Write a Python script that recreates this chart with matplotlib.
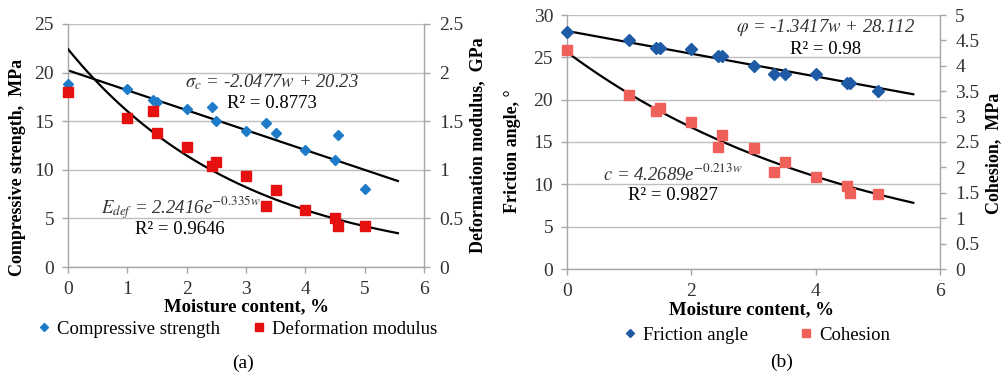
import numpy as np
import matplotlib
matplotlib.use("Agg")
import matplotlib.pyplot as plt
from matplotlib.lines import Line2D

plt.rcParams["font.family"] = ["serif"]
plt.rcParams["font.serif"] = ["Liberation Serif", "DejaVu Serif"]
plt.rcParams["mathtext.fontset"] = "stix"

# (a) compressive strength / deformation modulus
w_a = [0, 1, 1.43, 1.5, 2, 2.43, 2.5, 3, 3.33, 3.5, 4, 4.5, 4.55, 5]
sigma_c = [18.8, 18.3, 17.2, 17.0, 16.25, 16.45, 15.0, 14.0, 14.8, 13.8, 12.0, 11.05, 13.6, 8.0]
w_e = [0, 1, 1.43, 1.5, 2, 2.42, 2.5, 3, 3.33, 3.5, 4, 4.5, 4.55, 5]
e_def = [1.80, 1.53, 1.60, 1.38, 1.23, 1.04, 1.08, 0.94, 0.63, 0.79, 0.59, 0.50, 0.42, 0.42]

# (b) friction angle / cohesion
w_b = [0, 1, 1.43, 1.5, 2, 2.43, 2.5, 3, 3.33, 3.5, 4, 4.5, 4.55, 5]
phi = [28.0, 27.0, 26.1, 26.1, 26.0, 25.1, 25.1, 24.0, 23.0, 23.0, 23.0, 22.0, 22.0, 21.0]
coh = [4.31, 3.43, 3.11, 3.16, 2.90, 2.41, 2.64, 2.38, 1.90, 2.11, 1.82, 1.64, 1.50, 1.48]

# trendline coefficients printed on the chart
lin_a = (-2.0477, 20.23)
exp_a = (2.2416, -0.335)
lin_b = (-1.3417, 28.112)
exp_b = (4.2689, -0.213)

W, H = 1004, 373
fig = plt.figure(figsize=(W / 100, H / 100), dpi=100)

def px_axes(x0, x1, ytop, ybot):
    return fig.add_axes([x0 / W, 1 - ybot / H, (x1 - x0) / W, (ybot - ytop) / H])

grid_c = "#BFBFBF"
spine_c = "#A6A6A6"
tick_c = "#333333"
eq_c = "#333333"

def style(ax, twin):
    for a in (ax, twin):
        for s in a.spines.values():
            s.set_visible(False)
    ax.spines["left"].set_visible(True)
    ax.spines["bottom"].set_visible(True)
    twin.spines["right"].set_visible(True)
    for s in (ax.spines["left"], ax.spines["bottom"], twin.spines["right"]):
        s.set_color(spine_c)
        s.set_linewidth(1.0)
    ax.yaxis.grid(True, color=grid_c, lw=1.0)
    ax.set_axisbelow(True)
    ax.tick_params(axis="both", length=4, width=1.0, color=spine_c, labelsize=14,
                   labelcolor=tick_c, pad=6)
    twin.tick_params(axis="y", length=4, width=1.0, color=spine_c, labelsize=14,
                     labelcolor=tick_c, pad=7)

# ---------------- panel (a)
ax1 = px_axes(68, 424, 24, 267)
ax1r = ax1.twinx()
ax1.set_xlim(0, 6)
ax1.set_ylim(0, 25)
ax1r.set_ylim(0, 2.5)
ax1.set_xticks(range(0, 7))
ax1.set_yticks(range(0, 26, 5))
ax1r.set_yticks(np.arange(0, 2.51, 0.5))
ax1r.set_yticklabels(["0", "0.5", "1", "1.5", "2", "2.5"])
style(ax1, ax1r)

xx = np.linspace(0, 5.56, 200)
ax1.plot(xx, lin_a[0] * xx + lin_a[1], color="black", lw=1.6, zorder=2)
ax1r.plot(xx, exp_a[0] * np.exp(exp_a[1] * xx), color="black", lw=1.6, zorder=2)
ax1.plot(w_a, sigma_c, "D", color="#1E7BC8", ms=5.5, zorder=3, clip_on=False)
ax1r.plot(w_e, e_def, "s", color="#E51010", ms=7, zorder=3, clip_on=False)

fig.text(272 / W, 1 - 82 / H, r"$\sigma_c$ = -2.0477$w$ + 20.23", style="italic",
         fontsize=13.5, ha="center", va="center", color=eq_c)
fig.text(272 / W, 1 - 104 / H, "R² = 0.8773", fontsize=13.5, ha="center", va="center")
fig.text(181 / W, 1 - 208 / H, r"$E_{def}$ = 2.2416e$^{\mathit{-0.335w}}$", style="italic",
         fontsize=13.5, ha="center", va="center", color=eq_c)
fig.text(180 / W, 1 - 229 / H, "R² = 0.9646", fontsize=13.5, ha="center", va="center")

fig.text(247 / W, 1 - 307 / H, "Moisture content, %", fontsize=13.5, weight="bold",
         ha="center", va="center")
fig.text(18 / W, 1 - 167 / H, "Compressive strength,  MPa", fontsize=13, weight="bold",
         rotation=90, ha="center", va="center")
fig.text(478 / W, 1 - 145 / H, "Deformation modulus,  GPa", fontsize=13, weight="bold",
         rotation=90, ha="center", va="center")

h1 = [Line2D([], [], ls="", marker="D", ms=4.5, color="#1E7BC8"),
      Line2D([], [], ls="", marker="s", ms=6, color="#E51010")]
fig.legend(h1, ["Compressive strength", "Deformation modulus"], ncol=2, frameon=False,
           loc="center", bbox_to_anchor=(238 / W, 1 - 329 / H), fontsize=13.5,
           handlelength=0.6, handletextpad=0.4, columnspacing=1.8)
fig.text(243 / W, 1 - 363 / H, "(a)", fontsize=14, ha="center", va="center")

# ---------------- panel (b)
ax2 = px_axes(567, 940, 15, 269)
ax2r = ax2.twinx()
ax2.set_xlim(0, 6)
ax2.set_ylim(0, 30)
ax2r.set_ylim(0, 5)
ax2.set_xticks(range(0, 7, 2))
ax2.set_yticks(range(0, 31, 5))
ax2r.set_yticks(np.arange(0, 5.01, 0.5))
ax2r.set_yticklabels(["0", "0.5", "1", "1.5", "2", "2.5", "3", "3.5", "4", "4.5", "5"])
style(ax2, ax2r)

xx = np.linspace(0, 5.57, 200)
ax2.plot(xx, lin_b[0] * xx + lin_b[1], color="black", lw=1.6, zorder=2)
ax2r.plot(xx, exp_b[0] * np.exp(exp_b[1] * xx), color="black", lw=1.6, zorder=2)
ax2.plot(w_b, phi, "D", color="#1F5AA6", ms=6, zorder=3, clip_on=False)
ax2r.plot(w_b, coh, "s", color="#F0605A", ms=7.5, zorder=3, clip_on=False)

fig.text(826 / W, 1 - 27 / H, r"$\varphi$ = -1.3417$w$ + 28.112", style="italic",
         fontsize=13.5, ha="center", va="center", color=eq_c)
fig.text(826 / W, 1 - 49 / H, "R² = 0.98", fontsize=13.5, ha="center", va="center")
fig.text(673 / W, 1 - 173 / H, r"$c$ = 4.2689e$^{\mathit{-0.213w}}$", style="italic",
         fontsize=13.5, ha="center", va="center", color=eq_c)
fig.text(673 / W, 1 - 195 / H, "R² = 0.9827", fontsize=13.5, ha="center", va="center")

fig.text(752 / W, 1 - 310 / H, "Moisture content, %", fontsize=13.5, weight="bold",
         ha="center", va="center")
fig.text(513 / W, 1 - 151 / H, "Friction angle, °", fontsize=13, weight="bold",
         rotation=90, ha="center", va="center")
fig.text(994 / W, 1 - 153 / H, "Cohesion,  MPa", fontsize=13, weight="bold",
         rotation=90, ha="center", va="center")

h2 = [Line2D([], [], ls="", marker="D", ms=4.5, color="#1F5AA6"),
      Line2D([], [], ls="", marker="s", ms=6, color="#F0605A")]
fig.legend(h2, ["Friction angle", "Cohesion"], ncol=2, frameon=False,
           loc="center", bbox_to_anchor=(757 / W, 1 - 335 / H), fontsize=13.5,
           handlelength=0.6, handletextpad=0.4, columnspacing=2.8)
fig.text(782 / W, 1 - 362 / H, "(b)", fontsize=14, ha="center", va="center")

fig.savefig("out.png", dpi=100)
